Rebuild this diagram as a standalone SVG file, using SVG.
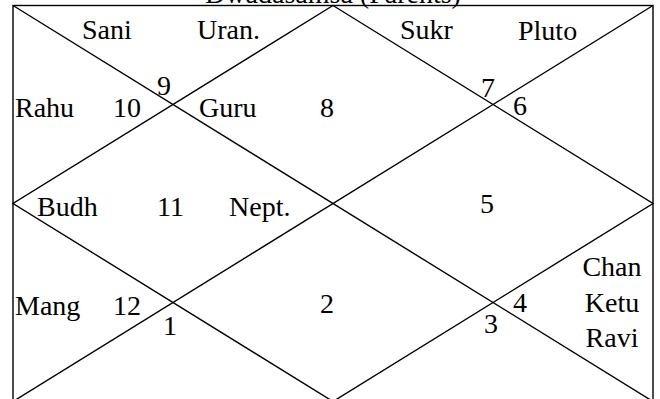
<svg xmlns="http://www.w3.org/2000/svg" width="660" height="399" viewBox="0 0 660 399">
<style>
text{font-family:"Liberation Serif","Times New Roman",serif;font-size:28px;fill:#000}
.ln{stroke:#000;stroke-width:1.4;fill:none}
.c{text-anchor:middle}
</style>
<rect width="660" height="399" fill="#fff"/>
<text id="title" class="c" x="333" y="3">Dwadasamsa (Parents)</text>
<g id="lines">
<rect class="ln" x="13" y="5.5" width="640" height="396"/>
<line class="ln" x1="13" y1="5.5" x2="653" y2="401.5"/>
<line class="ln" x1="653" y1="5.5" x2="13" y2="401.5"/>
<polygon class="ln" points="333,5.5 653,203.5 333,401.5 13,203.5"/>
</g>
<g id="h8"><text x="82" y="39">Sani</text><text x="197" y="39">Uran.</text><text x="157" y="95">9</text></g>
<g id="h9"><text x="15" y="117">Rahu</text><text x="113" y="117">10</text></g>
<g id="h1"><text x="199" y="117">Guru</text><text x="320" y="117">8</text></g>
<g id="h2"><text x="400" y="39">Sukr</text><text x="518" y="40">Pluto</text><text x="481" y="97">7</text></g>
<g id="h3"><text x="513" y="115">6</text></g>
<g id="h10"><text x="37" y="216">Budh</text><text x="157" y="216">11</text><text x="229" y="216">Nept.</text></g>
<g id="h4"><text x="480" y="213">5</text></g>
<g id="h11"><text x="15" y="315">Mang</text><text x="113" y="315">12</text><text x="163" y="335">1</text></g>
<g id="h7"><text x="320" y="313">2</text></g>
<g id="h5"><text x="484" y="333">3</text></g>
<g id="h6"><text x="513" y="312">4</text><text class="c" x="612" y="276">Chan</text><text class="c" x="612" y="312">Ketu</text><text class="c" x="612" y="347">Ravi</text></g>
</svg>
